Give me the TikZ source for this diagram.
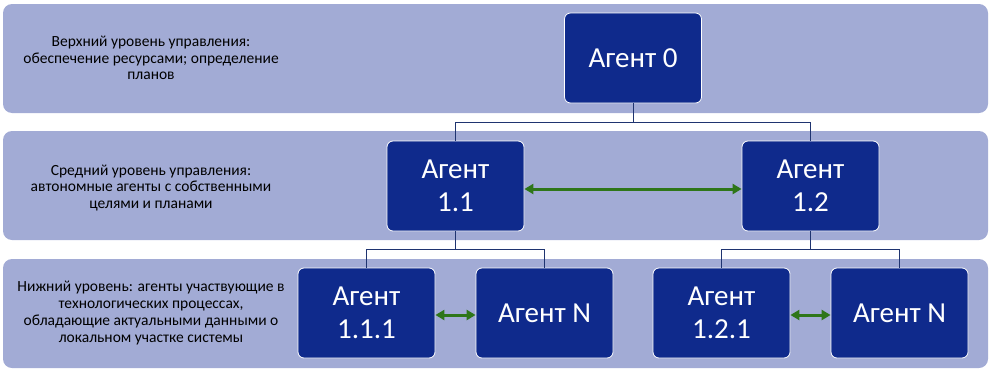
\documentclass[tikz,border=0pt]{standalone}
\usepackage{fontspec}
\setmainfont{Carlito}
\usetikzlibrary{arrows.meta}
\definecolor{bandc}{HTML}{A2ABD5}
\definecolor{nodec}{HTML}{0F2A8C}
\definecolor{linec}{HTML}{1F3470}
\definecolor{greenc}{HTML}{2E7619}
\tikzset{
  band/.style={fill=bandc, draw=none, rounded corners=9pt},
  agent/.style={draw=white, line width=0.8pt, fill=nodec, rounded corners=6pt,
    text=white, align=center, font=\fontsize{29}{33}\selectfont,
    minimum width=137pt, minimum height=90pt, inner sep=0pt},
  lvl/.style={align=center, text=black, font=\fontsize{15.5}{16.8}\selectfont},
  tree/.style={draw=linec, line width=1pt},
  link/.style={draw=greenc, line width=3pt, {Triangle[length=9pt,width=10pt]}-{Triangle[length=9pt,width=10pt]}}
}
\begin{document}
\begin{tikzpicture}[x=1pt,y=-1pt]
\useasboundingbox (0,0) rectangle (990,372);
\fill[band] (3,4) rectangle (988,113);
\fill[band] (3,131) rectangle (988,240);
\fill[band] (3,259) rectangle (988,368);

\node[lvl] (l1) at (151,58) {Верхний уровень управления:\\обеспечение ресурсами; определение\\планов};
\node[lvl] (l2) at (151,188) {Средний уровень управления:\\автономные агенты с собственными\\целями и планами};
\node[lvl] (l3) at (151,313) {Нижний уровень: агенты участвующие в\\технологических процессах,\\обладающие актуальными данными о\\локальном участке системы};

\node[agent] (a0) at (633,58) {Агент 0};
\node[agent] (a11) at (455.5,186) {Агент\\1.1};
\node[agent] (a12) at (810.5,186) {Агент\\1.2};
\node[agent] (a111) at (366.5,313) {Агент\\1.1.1};
\node[agent] (an1) at (544.5,313) {Агент N};
\node[agent] (a121) at (721.5,313) {Агент\\1.2.1};
\node[agent] (an2) at (899.5,313) {Агент N};

\coordinate (j0) at (633,122);
\coordinate (j1) at (455.5,249);
\coordinate (j2) at (810.5,249);
\draw[tree] (a0.south) -- (j0) -| (a11.north);
\draw[tree] (j0) -| (a12.north);
\draw[tree] (a11.south) -- (j1) -| (a111.north);
\draw[tree] (j1) -| (an1.north);
\draw[tree] (a12.south) -- (j2) -| (a121.north);
\draw[tree] (j2) -| (an2.north);

\draw[link] ([yshift=-3pt]a11.east) -- ([yshift=-3pt]a12.west);
\draw[link] ([yshift=-2pt]a111.east) -- ([yshift=-2pt]an1.west);
\draw[link] ([yshift=-2pt]a121.east) -- ([yshift=-2pt]an2.west);
\end{tikzpicture}
\end{document}
